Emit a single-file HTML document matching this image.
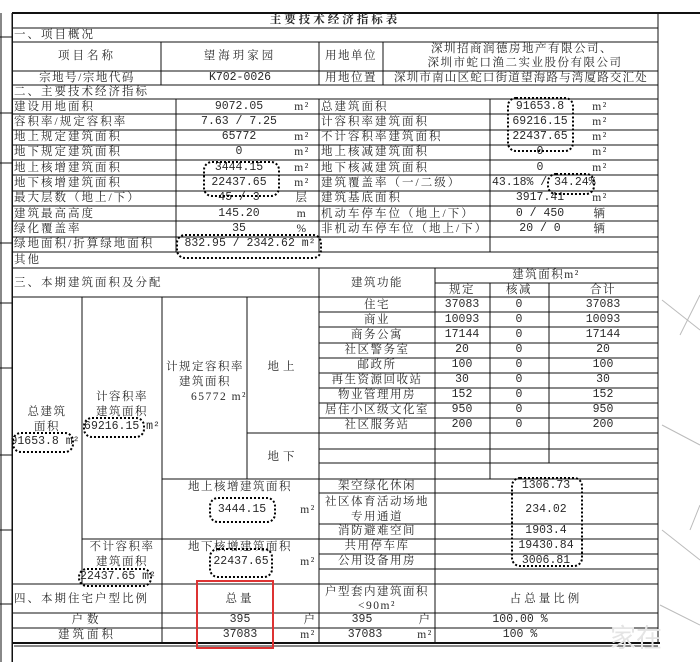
<!DOCTYPE html>
<html><head><meta charset="utf-8">
<style>
html,body{margin:0;padding:0;background:#fff;}
#w{position:relative;width:700px;height:662px;overflow:hidden;background:#fff;font-family:"Liberation Serif","Noto Serif CJK SC",serif;color:#2a2a2a;}
svg{position:absolute;left:0;top:0;}
.t{position:absolute;line-height:14px;font-size:11.5px;white-space:nowrap;transform:translate(-50%,-50%);letter-spacing:1.5px;}
.l{position:absolute;line-height:14px;font-size:11.5px;white-space:nowrap;transform:translateY(-50%);letter-spacing:2px;}
.n{letter-spacing:0;font-family:"Liberation Mono","Noto Serif CJK SC",monospace;font-size:11.5px;}
.cl{position:absolute;border:2.5px dotted #000;border-radius:9px;box-sizing:border-box;}
</style></head><body>
<div id="w">
<svg width="700" height="662" viewBox="0 0 700 662">
<g stroke="#111" stroke-width="1" fill="none" shape-rendering="crispEdges">
<line x1="12" y1="13" x2="700" y2="13" stroke-width="2"/>
<line x1="12" y1="13" x2="12" y2="662" stroke-width="1.5"/>
<line x1="658" y1="13" x2="658" y2="643"/>
<line x1="12" y1="28" x2="658" y2="28"/>
<line x1="12" y1="42" x2="658" y2="42"/>
<line x1="12" y1="71" x2="658" y2="71"/>
<line x1="12" y1="85" x2="658" y2="85"/>
<line x1="12" y1="99" x2="658" y2="99"/>
<line x1="161" y1="42" x2="161" y2="85"/>
<line x1="319" y1="42" x2="319" y2="85"/>
<line x1="383" y1="42" x2="383" y2="85"/>
<line x1="12" y1="114" x2="658" y2="114"/>
<line x1="12" y1="130" x2="658" y2="130"/>
<line x1="12" y1="145" x2="658" y2="145"/>
<line x1="12" y1="160" x2="658" y2="160"/>
<line x1="12" y1="175" x2="658" y2="175"/>
<line x1="12" y1="191" x2="658" y2="191"/>
<line x1="12" y1="206" x2="658" y2="206"/>
<line x1="12" y1="221" x2="658" y2="221"/>
<line x1="12" y1="237" x2="658" y2="237"/>
<line x1="12" y1="252" x2="658" y2="252"/>
<line x1="176" y1="99" x2="176" y2="252"/>
<line x1="319" y1="99" x2="319" y2="252"/>
<line x1="490" y1="99" x2="490" y2="252"/>
<line x1="12" y1="268" x2="658" y2="268"/>
<line x1="435" y1="283" x2="658" y2="283"/>
<line x1="12" y1="297" x2="658" y2="297"/>
<line x1="319" y1="268" x2="319" y2="643"/>
<line x1="435" y1="268" x2="435" y2="643"/>
<line x1="490" y1="283" x2="490" y2="479"/>
<line x1="549" y1="283" x2="549" y2="463"/>
<line x1="82" y1="297" x2="82" y2="584"/>
<line x1="162" y1="297" x2="162" y2="643"/>
<line x1="247" y1="297" x2="247" y2="479"/>
<line x1="319" y1="312" x2="658" y2="312"/>
<line x1="319" y1="327" x2="658" y2="327"/>
<line x1="319" y1="343" x2="658" y2="343"/>
<line x1="319" y1="358" x2="658" y2="358"/>
<line x1="319" y1="373" x2="658" y2="373"/>
<line x1="319" y1="388" x2="658" y2="388"/>
<line x1="319" y1="403" x2="658" y2="403"/>
<line x1="319" y1="418" x2="658" y2="418"/>
<line x1="247" y1="433" x2="658" y2="433"/>
<line x1="319" y1="449" x2="658" y2="449"/>
<line x1="319" y1="463" x2="658" y2="463"/>
<line x1="162" y1="479" x2="658" y2="479"/>
<line x1="319" y1="493" x2="658" y2="493"/>
<line x1="319" y1="524" x2="658" y2="524"/>
<line x1="82" y1="539" x2="658" y2="539"/>
<line x1="319" y1="554" x2="658" y2="554"/>
<line x1="319" y1="569" x2="658" y2="569"/>
<line x1="12" y1="584" x2="658" y2="584"/>
<line x1="12" y1="613" x2="658" y2="613"/>
<line x1="12" y1="628" x2="658" y2="628"/>
<line x1="12" y1="643" x2="660" y2="643" stroke-width="2"/>
<line x1="14" y1="646" x2="658" y2="646"/>
<line x1="1" y1="13" x2="1" y2="662"/>
<line x1="0" y1="37" x2="12" y2="37"/>
<line x1="0" y1="113" x2="12" y2="113"/>
<line x1="0" y1="163" x2="12" y2="163"/>
<line x1="0" y1="243" x2="12" y2="243"/>
<line x1="0" y1="303" x2="12" y2="303"/>
<line x1="0" y1="368" x2="12" y2="368"/>
<line x1="0" y1="455" x2="12" y2="455"/>
<line x1="0" y1="530" x2="12" y2="530"/>
<line x1="0" y1="604" x2="12" y2="604"/>
</g>
<g stroke="#bbb" stroke-width="1" fill="none">
<line x1="662" y1="300" x2="700" y2="330"/>
<line x1="680" y1="335" x2="700" y2="295"/>
<line x1="662" y1="425" x2="700" y2="445"/>
<line x1="662" y1="530" x2="700" y2="560"/>
<line x1="660" y1="605" x2="700" y2="625"/>
<line x1="690" y1="530" x2="700" y2="505"/>
</g>
<rect x="197" y="581" width="76" height="67" fill="none" stroke="#d33" stroke-width="2"/>
</svg>

<div class="t" style="left:335px;top:20px;font-weight:bold;letter-spacing:3px">主要技术经济指标表</div>
<div class="l" style="left:14px;top:35px">一、项目概况</div>
<div class="t" style="left:87px;top:56px;letter-spacing:3px">项目名称</div>
<div class="t" style="left:240px;top:56px;letter-spacing:3px">望海玥家园</div>
<div class="t" style="left:351px;top:56px">用地单位</div>
<div class="t" style="left:522px;top:49px">深圳招商润德房地产有限公司、</div>
<div class="t" style="left:525px;top:63px">深圳市蛇口渔二实业股份有限公司</div>
<div class="t" style="left:87px;top:78px">宗地号/宗地代码</div>
<div class="t n" style="left:240px;top:78px">K702-0026</div>
<div class="t" style="left:351px;top:78px">用地位置</div>
<div class="t" style="left:521px;top:78px;letter-spacing:1.2px">深圳市南山区蛇口街道望海路与湾厦路交汇处</div>
<div class="l" style="left:14px;top:92px">二、主要技术经济指标</div>

<div class="l" style="left:14px;top:107px">建设用地面积</div>
<div class="t n" style="left:239px;top:107px">9072.05</div><div class="t" style="left:302px;top:107px">m²</div>
<div class="l" style="left:321px;top:107px">总建筑面积</div>
<div class="t n" style="left:540px;top:107px">91653.8</div><div class="t" style="left:600px;top:107px">m²</div>

<div class="l" style="left:14px;top:122px">容积率/规定容积率</div>
<div class="t n" style="left:239px;top:122px">7.63 / 7.25</div>
<div class="l" style="left:321px;top:122px">计容积率建筑面积</div>
<div class="t n" style="left:540px;top:122px">69216.15</div><div class="t" style="left:600px;top:122px">m²</div>

<div class="l" style="left:14px;top:137px">地上规定建筑面积</div>
<div class="t n" style="left:239px;top:137px">65772</div><div class="t" style="left:302px;top:137px">m²</div>
<div class="l" style="left:321px;top:137px">不计容积率建筑面积</div>
<div class="t n" style="left:540px;top:137px">22437.65</div><div class="t" style="left:600px;top:137px">m²</div>

<div class="l" style="left:14px;top:152px">地下规定建筑面积</div>
<div class="t n" style="left:239px;top:152px">0</div><div class="t" style="left:302px;top:152px">m²</div>
<div class="l" style="left:321px;top:152px">地上核减建筑面积</div>
<div class="t n" style="left:540px;top:152px">0</div><div class="t" style="left:600px;top:152px">m²</div>

<div class="l" style="left:14px;top:168px">地上核增建筑面积</div>
<div class="t n" style="left:239px;top:168px">3444.15</div><div class="t" style="left:302px;top:168px">m²</div>
<div class="l" style="left:321px;top:168px">地下核减建筑面积</div>
<div class="t n" style="left:540px;top:168px">0</div><div class="t" style="left:600px;top:168px">m²</div>

<div class="l" style="left:14px;top:183px">地下核增建筑面积</div>
<div class="t n" style="left:239px;top:183px">22437.65</div><div class="t" style="left:302px;top:183px">m²</div>
<div class="l" style="left:321px;top:183px">建筑覆盖率（一/二级）</div>
<div class="l n" style="left:492px;top:183px">43.18% / 34.24%</div>

<div class="l" style="left:14px;top:198px">最大层数（地上/下）</div>
<div class="t n" style="left:239px;top:198px">45 / 3</div><div class="t" style="left:302px;top:198px">层</div>
<div class="l" style="left:321px;top:198px">建筑基底面积</div>
<div class="t n" style="left:540px;top:198px">3917.41</div><div class="t" style="left:600px;top:198px">m²</div>

<div class="l" style="left:14px;top:214px">建筑最高高度</div>
<div class="t n" style="left:239px;top:214px">145.20</div><div class="t" style="left:302px;top:214px">m</div>
<div class="l" style="left:321px;top:214px">机动车停车位（地上/下）</div>
<div class="t n" style="left:540px;top:214px">0 / 450</div><div class="t" style="left:600px;top:214px">辆</div>

<div class="l" style="left:14px;top:229px">绿化覆盖率</div>
<div class="t n" style="left:239px;top:229px">35</div><div class="t" style="left:302px;top:229px">%</div>
<div class="l" style="left:321px;top:229px">非机动车停车位（地上/下）</div>
<div class="t n" style="left:540px;top:229px">20 / 0</div><div class="t" style="left:600px;top:229px">辆</div>

<div class="l" style="left:14px;top:244px">绿地面积/折算绿地面积</div>
<div class="t n" style="left:250px;top:244px">832.95 / 2342.62 m²</div>
<div class="l" style="left:14px;top:260px">其他</div>

<div class="l" style="left:14px;top:283px">三、本期建筑面积及分配</div>
<div class="t" style="left:377px;top:283px">建筑功能</div>
<div class="t" style="left:546px;top:275px">建筑面积m²</div>
<div class="t" style="left:462px;top:290px">规定</div>
<div class="t" style="left:519px;top:290px">核减</div>
<div class="t" style="left:603px;top:290px">合计</div>

<div class="t" style="left:377px;top:305px">住宅</div><div class="t n" style="left:462px;top:305px">37083</div><div class="t n" style="left:519px;top:305px">0</div><div class="t n" style="left:603px;top:305px">37083</div>
<div class="t" style="left:377px;top:320px">商业</div><div class="t n" style="left:462px;top:320px">10093</div><div class="t n" style="left:519px;top:320px">0</div><div class="t n" style="left:603px;top:320px">10093</div>
<div class="t" style="left:377px;top:335px">商务公寓</div><div class="t n" style="left:462px;top:335px">17144</div><div class="t n" style="left:519px;top:335px">0</div><div class="t n" style="left:603px;top:335px">17144</div>
<div class="t" style="left:377px;top:350px">社区警务室</div><div class="t n" style="left:462px;top:350px">20</div><div class="t n" style="left:519px;top:350px">0</div><div class="t n" style="left:603px;top:350px">20</div>
<div class="t" style="left:377px;top:365px">邮政所</div><div class="t n" style="left:462px;top:365px">100</div><div class="t n" style="left:519px;top:365px">0</div><div class="t n" style="left:603px;top:365px">100</div>
<div class="t" style="left:377px;top:380px">再生资源回收站</div><div class="t n" style="left:462px;top:380px">30</div><div class="t n" style="left:519px;top:380px">0</div><div class="t n" style="left:603px;top:380px">30</div>
<div class="t" style="left:377px;top:395px">物业管理用房</div><div class="t n" style="left:462px;top:395px">152</div><div class="t n" style="left:519px;top:395px">0</div><div class="t n" style="left:603px;top:395px">152</div>
<div class="t" style="left:377px;top:410px">居住小区级文化室</div><div class="t n" style="left:462px;top:410px">950</div><div class="t n" style="left:519px;top:410px">0</div><div class="t n" style="left:603px;top:410px">950</div>
<div class="t" style="left:377px;top:425px">社区服务站</div><div class="t n" style="left:462px;top:425px">200</div><div class="t n" style="left:519px;top:425px">0</div><div class="t n" style="left:603px;top:425px">200</div>

<div class="t" style="left:283px;top:367px;letter-spacing:4px">地上</div>
<div class="t" style="left:283px;top:457px;letter-spacing:4px">地下</div>
<div class="t" style="left:205px;top:367px">计规定容积率</div>
<div class="t" style="left:205px;top:382px">建筑面积</div>
<div class="t" style="left:219px;top:397px">65772 m²</div>
<div class="t" style="left:122px;top:397px">计容积率</div>
<div class="t" style="left:122px;top:412px">建筑面积</div>
<div class="t n" style="left:122px;top:427px">69216.15 m²</div>
<div class="t" style="left:47px;top:412px">总建筑</div>
<div class="t" style="left:47px;top:427px">面积</div>
<div class="t n" style="left:45px;top:442px">91653.8 m²</div>

<div class="t" style="left:240px;top:487px">地上核增建筑面积</div>
<div class="t n" style="left:242px;top:510px">3444.15</div><div class="t" style="left:308px;top:510px">m²</div>
<div class="t" style="left:377px;top:486px">架空绿化休闲</div>
<div class="t" style="left:377px;top:502px">社区体育活动场地</div>
<div class="t" style="left:377px;top:517px">专用通道</div>
<div class="t" style="left:377px;top:531px">消防避难空间</div>
<div class="t" style="left:377px;top:546px">共用停车库</div>
<div class="t" style="left:377px;top:561px">公用设备用房</div>
<div class="t n" style="left:546px;top:486px">1306.73</div>
<div class="t n" style="left:546px;top:510px">234.02</div>
<div class="t n" style="left:546px;top:531px">1903.4</div>
<div class="t n" style="left:546px;top:546px">19430.84</div>
<div class="t n" style="left:546px;top:561px">3006.81</div>
<div class="t" style="left:122px;top:547px">不计容积率</div>
<div class="t" style="left:122px;top:562px">建筑面积</div>
<div class="t n" style="left:118px;top:577px">22437.65 m²</div>
<div class="t" style="left:240px;top:547px">地下核增建筑面积</div>
<div class="t n" style="left:241px;top:562px">22437.65</div><div class="t" style="left:308px;top:562px">m²</div>

<div class="l" style="left:14px;top:599px">四、本期住宅户型比例</div>
<div class="t" style="left:240px;top:599px;letter-spacing:3px">总量</div>
<div class="t" style="left:377px;top:592px">户型套内建筑面积</div>
<div class="t" style="left:377px;top:606px">&lt;90m²</div>
<div class="t" style="left:546px;top:599px;letter-spacing:3px">占总量比例</div>
<div class="t" style="left:87px;top:620px;letter-spacing:4px">户数</div>
<div class="t n" style="left:240px;top:620px">395</div><div class="t" style="left:310px;top:620px">户</div>
<div class="t n" style="left:362px;top:620px">395</div><div class="t" style="left:425px;top:620px">户</div>
<div class="t n" style="left:520px;top:620px">100.00 %</div>
<div class="t" style="left:87px;top:635px;letter-spacing:3px">建筑面积</div>
<div class="t n" style="left:240px;top:635px">37083</div><div class="t" style="left:308px;top:635px">m²</div>
<div class="t n" style="left:365px;top:635px">37083</div><div class="t" style="left:425px;top:635px">m²</div>
<div class="t n" style="left:520px;top:635px">100 %</div>

<div class="cl" style="left:507px;top:97px;width:67px;height:55px"></div>
<div class="cl" style="left:203px;top:161px;width:77px;height:36px"></div>
<div class="cl" style="left:547px;top:173px;width:48px;height:22px"></div>
<div class="cl" style="left:176px;top:234px;width:146px;height:25px"></div>
<div class="cl" style="left:12px;top:432px;width:62px;height:21px"></div>
<div class="cl" style="left:83px;top:417px;width:62px;height:21px"></div>
<div class="cl" style="left:209px;top:497px;width:67px;height:26px"></div>
<div class="cl" style="left:209px;top:548px;width:64px;height:30px"></div>
<div class="cl" style="left:78px;top:568px;width:74px;height:19px"></div>
<div class="cl" style="left:511px;top:477px;width:72px;height:90px"></div>

<div style="position:absolute;left:610px;top:618px;font-size:26px;color:#e4e4e4;font-family:'Noto Sans CJK SC',sans-serif">家在</div>
</div>
</body></html>
